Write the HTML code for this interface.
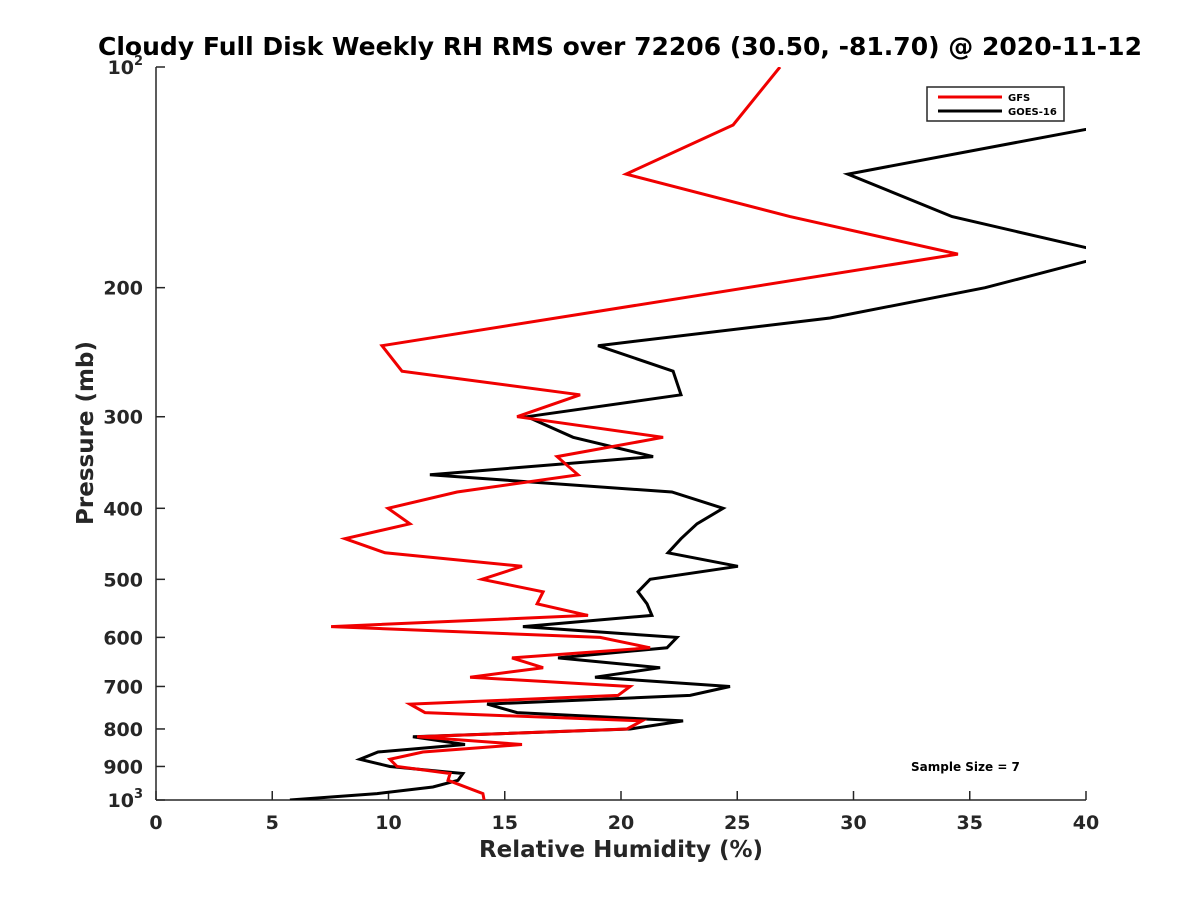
<!DOCTYPE html>
<html><head><meta charset="utf-8"><style>
body{margin:0;background:#fff}
svg{font-family:"DejaVu Sans","Liberation Sans",sans-serif;font-weight:bold}
</style></head><body>
<svg id="chart" width="1200" height="900" viewBox="0 0 1200 900">
<defs><clipPath id="pc"><rect x="156" y="67" width="930" height="733"/></clipPath></defs>
<text x="620" y="55" text-anchor="middle" font-size="25" fill="#000" textLength="1044" lengthAdjust="spacingAndGlyphs">Cloudy Full Disk Weekly RH RMS over 72206 (30.50, -81.70) @ 2020-11-12</text>
<g id="axes"></g>
<g id="series" clip-path="url(#pc)"></g>
<text x="621" y="857" text-anchor="middle" font-size="23" fill="#262626">Relative Humidity (%)</text>
<text transform="translate(93,433) rotate(-90)" text-anchor="middle" font-size="23" fill="#262626">Pressure (mb)</text>
<g>
<rect x="927" y="87" width="137" height="34" fill="#fff" stroke="#262626" stroke-width="1.5"/>
<line x1="938" y1="97" x2="1002" y2="97" stroke="#f00000" stroke-width="3"/>
<text x="1008" y="101" font-size="10" fill="#000">GFS</text>
<line x1="938" y1="111" x2="1002" y2="111" stroke="#000" stroke-width="3"/>
<text x="1008" y="115" font-size="10" fill="#000">GOES-16</text>
</g>
<text x="911" y="771" font-size="12" fill="#000">Sample Size = 7</text>
</svg>
<script>
const xTicks = [0,5,10,15,20,25,30,35,40];
const yTicks = [100,200,300,400,500,600,700,800,900,1000];
const gfsP = [100,120,140,160,180,240,260,280,300,320,340,360,380,400,420,440,460,480,500,520,540,560,580,600,620,640,660,680,700,720,740,760,780,800,820,840,860,880,900,920,940,980,1000];
const gfsRH = [26.84,24.82,20.22,27.27,34.49,9.72,10.58,18.24,15.53,21.81,17.25,18.15,12.95,9.98,10.92,8.13,9.85,15.74,14.02,16.65,16.39,18.58,7.53,19.1,21.25,15.31,16.65,13.51,20.39,19.87,10.92,11.57,20.9,20.26,11.23,15.74,11.48,10.06,10.37,12.65,12.56,14.06,14.11];
const goesP = [120,140,160,180,200,220,240,260,280,300,320,340,360,380,400,420,440,460,480,500,520,540,560,580,600,620,640,660,680,700,720,740,760,780,800,820,840,860,880,900,920,940,960,980,1000];
const goesRH = [41,29.76,34.24,41.2,35.66,28.99,19.01,22.24,22.58,15.96,17.94,21.38,11.78,22.19,24.39,23.27,22.58,22.02,25.03,21.25,20.73,21.12,21.33,15.78,22.41,21.98,17.29,21.68,18.88,24.69,22.97,14.24,15.53,22.67,20.39,11.05,13.29,9.55,8.77,10.06,13.2,12.99,11.91,9.51,5.76];
const NS='http://www.w3.org/2000/svg';
const X0=156,X1=1086,Y0=67,Y1=800;
const xs=v=>X0+(v-0)/40*(X1-X0);
const ys=p=>Y0+Math.log10(p/100)*(Y1-Y0);
function mk(t,a,parent){const e=document.createElementNS(NS,t);for(const k in a)e.setAttribute(k,a[k]);parent.appendChild(e);return e;}
const ax=document.getElementById('axes');
let l=mk('line',{x1:X0,y1:Y0,x2:X0,y2:Y1,stroke:'#262626','stroke-width':1.5},ax);


l=mk('line',{x1:X0,y1:Y1,x2:X1,y2:Y1,stroke:'#262626','stroke-width':1.5},ax);


xTicks.forEach(v=>{
 const t=mk('line',{x1:xs(v),y1:Y1,x2:xs(v),y2:Y1-9,stroke:'#262626','stroke-width':1.5},ax);
 
 
 const tx=mk('text',{x:xs(v),y:Y1+29,'text-anchor':'middle','font-size':19,fill:'#262626'},ax);
 tx.textContent=v;
 
 
});
yTicks.forEach(p=>{
 const t=mk('line',{x1:X0,y1:ys(p),x2:X0+9,y2:ys(p),stroke:'#262626','stroke-width':1.5},ax);
 
 
 const tx=mk('text',{x:X0-13,y:ys(p)+7,'text-anchor':'end','font-size':19,fill:'#262626'},ax);
 if(p===100||p===1000){tx.textContent='10';const s=mk('tspan',{dy:-9,'font-size':13},tx);s.textContent=p===100?'2':'3';}
 else tx.textContent=p;
 
 
});
const sg=document.getElementById('series');
function line(P,V,col,name){
 const pts=P.map((p,i)=>xs(V[i]).toFixed(1)+','+ys(p).toFixed(1)).join(' ');
 const e=mk('polyline',{points:pts,fill:'none',stroke:col,'stroke-width':3,'stroke-linejoin':'miter'},sg);
 
 
}
line(goesP,goesRH,'#000','goes16-line');
line(gfsP,gfsRH,'#f00000','gfs-line');
</script>
</body></html>
